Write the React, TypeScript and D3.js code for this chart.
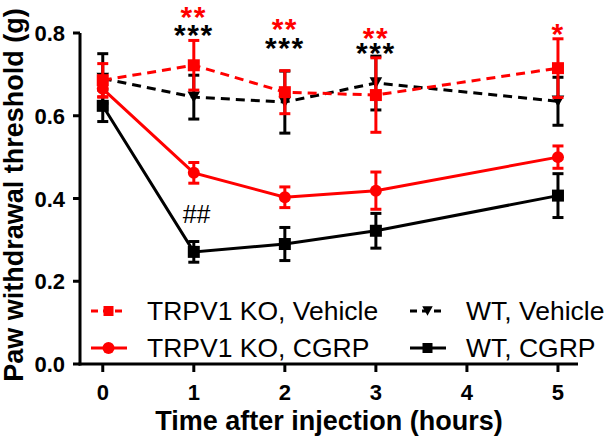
import React from "react";
import * as d3 from "d3";

const times = [0, 1, 2, 3, 5];
const xTicks = [0, 1, 2, 3, 4, 5];
const yTicks = [0, 0.2, 0.4, 0.6, 0.8];

const koVehicleMean = [0.686, 0.722, 0.657, 0.65, 0.715];
const koVehicleSem = [0.04, 0.06, 0.052, 0.09, 0.071];
const koCgrpMean = [0.665, 0.462, 0.403, 0.419, 0.5];
const koCgrpSem = [0.02, 0.025, 0.025, 0.045, 0.027];
const wtVehicleMean = [0.69, 0.645, 0.633, 0.679, 0.635];
const wtVehicleSem = [0.06, 0.053, 0.075, 0.065, 0.058];
const wtCgrpMean = [0.624, 0.271, 0.29, 0.322, 0.407];
const wtCgrpSem = [0.038, 0.025, 0.04, 0.042, 0.053];

const seriesNames = ["TRPV1 KO, Vehicle", "TRPV1 KO, CGRP", "WT, Vehicle", "WT, CGRP"];

// significance annotations (per time point): red = vs TRPV1 KO CGRP, black = vs WT CGRP
const annotTimes = [1, 2, 3, 5];
const redStars = ["**", "**", "**", "*"];
const redStarY = [0.8157, 0.7843, 0.7626, 0.7746];
const blackStars = ["***", "***", "***", ""];
const blackStarY = [0.7722, 0.7384, 0.7263, 0];
const hashTime = 1.03;
const hashY = 0.341;

const RED = "#ff0000";
const BLACK = "#000000";
const FONT = "'Liberation Sans', Arial, Helvetica, sans-serif";

type Series = {
  name: string;
  mean: number[];
  sem: number[];
  color: string;
  dashed: boolean;
  marker: "square" | "circle" | "tri";
};

const series: Series[] = [
  { name: seriesNames[3], mean: wtCgrpMean, sem: wtCgrpSem, color: BLACK, dashed: false, marker: "square" },
  { name: seriesNames[2], mean: wtVehicleMean, sem: wtVehicleSem, color: BLACK, dashed: true, marker: "tri" },
  { name: seriesNames[1], mean: koCgrpMean, sem: koCgrpSem, color: RED, dashed: false, marker: "circle" },
  { name: seriesNames[0], mean: koVehicleMean, sem: koVehicleSem, color: RED, dashed: true, marker: "square" },
];

function Marker({ kind, x, y, color, size }: { kind: string; x: number; y: number; color: string; size: number }) {
  if (kind === "square") {
    return <rect x={x - size / 2} y={y - size / 2} width={size} height={size} fill={color} />;
  }
  if (kind === "circle") {
    return <circle cx={x} cy={y} r={size / 2} fill={color} />;
  }
  const h = size * 0.95;
  const w = size * 1.05;
  return (
    <path
      d={`M${x - w / 2},${y - h / 2}L${x + w / 2},${y - h / 2}L${x},${y + h / 2}Z`}
      fill={color}
    />
  );
}

export default function App() {
  const W = 615;
  const H = 440;
  const x = d3.scaleLinear().domain([-0.25, 5.22]).range([80, 578]);
  const y = d3.scaleLinear().domain([0, 0.8]).range([364, 33]);
  const line = d3
    .line<number>()
    .x((_, i) => x(times[i]))
    .y((d) => y(d));

  const cap = 5.5;

  const legendItems = [
    { s: series[3], lx: 91, rowY: 311 },
    { s: series[2], lx: 91, rowY: 348 },
    { s: series[1], lx: 410, rowY: 311 },
    { s: series[0], lx: 410, rowY: 348 },
  ];

  return (
    <svg
      width={W}
      height={H}
      viewBox={`0 0 ${W} ${H}`}
      style={{ position: "absolute", left: 0, top: 0, background: "#fff" }}
      fontFamily={FONT}
    >
      <rect x={0} y={0} width={W} height={H} fill="#fff" />

      {/* series */}
      {series.map((s) => (
        <g key={s.name}>
          <path
            d={line(s.mean) || ""}
            fill="none"
            stroke={s.color}
            strokeWidth={3}
            strokeDasharray={s.dashed ? "9,6" : undefined}
          />
          {s.mean.map((m, i) => {
            const cx = x(times[i]);
            const y1 = y(m + s.sem[i]);
            const y2 = y(m - s.sem[i]);
            return (
              <g key={i}>
                <line x1={cx} x2={cx} y1={y1} y2={y2} stroke={s.color} strokeWidth={3} />
                <line x1={cx - cap} x2={cx + cap} y1={y1} y2={y1} stroke={s.color} strokeWidth={3} />
                <line x1={cx - cap} x2={cx + cap} y1={y2} y2={y2} stroke={s.color} strokeWidth={3} />
                <Marker kind={s.marker} x={cx} y={y(m)} color={s.color} size={12} />
              </g>
            );
          })}
        </g>
      ))}

      {/* axes */}
      <line x1={80} x2={80} y1={y(0.8)} y2={y(0) + 1.5} stroke="#000" strokeWidth={3} />
      <line x1={78.5} x2={578} y1={y(0)} y2={y(0)} stroke="#000" strokeWidth={3} />
      {yTicks.map((t) => (
        <g key={t}>
          <line x1={73} x2={80} y1={y(t)} y2={y(t)} stroke="#000" strokeWidth={3} />
          <text
            x={65}
            y={y(t) + 8}
            textAnchor="end"
            fontSize={22}
            fontWeight="bold"
            fill="#000"
          >
            {t.toFixed(1)}
          </text>
        </g>
      ))}
      {xTicks.map((t) => (
        <g key={t}>
          <line x1={x(t)} x2={x(t)} y1={y(0)} y2={y(0) + 8} stroke="#000" strokeWidth={3} />
          <text x={x(t)} y={400} textAnchor="middle" fontSize={22} fontWeight="bold" fill="#000">
            {t}
          </text>
        </g>
      ))}

      <text x={329} y={430} textAnchor="middle" fontSize={27} fontWeight="bold" fill="#000">
        Time after injection (hours)
      </text>
      <text
        transform={`translate(23,195) rotate(-90)`}
        textAnchor="middle"
        fontSize={27}
        fontWeight="bold"
        fill="#000"
      >
        Paw withdrawal threshold (g)
      </text>

      {/* annotations */}
      {annotTimes.map((t, i) => (
        <text
          key={t}
          textAnchor="middle"
          fontSize={30}
          fontWeight="bold"
          letterSpacing={1.5}
        >
          <tspan x={x(t)} y={y(redStarY[i])} fill={RED}>
            {redStars[i]}
          </tspan>
          {blackStars[i] ? (
            <tspan x={x(t)} y={y(blackStarY[i])} fill={BLACK}>
              {blackStars[i]}
            </tspan>
          ) : null}
        </text>
      ))}
      <text x={x(hashTime)} y={y(hashY)} textAnchor="middle" fontSize={25} fill="#000">
        ##
      </text>

      {/* legend */}
      {legendItems.map(({ s, lx, rowY }) => (
        <g key={s.name}>
          <line
            x1={lx}
            x2={lx + 36}
            y1={rowY}
            y2={rowY}
            stroke={s.color}
            strokeWidth={3}
            strokeDasharray={s.dashed ? "7,5" : undefined}
          />
          <Marker kind={s.marker} x={lx + 17.5} y={rowY} color={s.color} size={s.marker === "circle" ? 12 : 10} />
          <text x={lx + 56} y={rowY + 9} fontSize={26.5} fill="#000">
            {s.name}
          </text>
        </g>
      ))}
    </svg>
  );
}
